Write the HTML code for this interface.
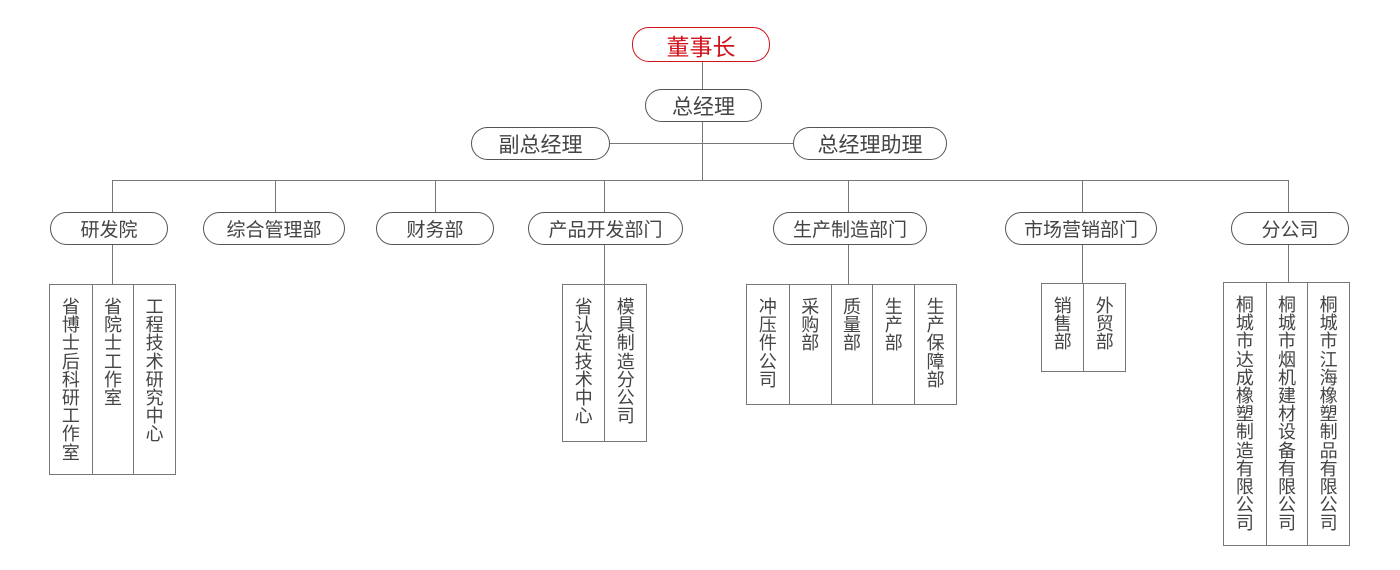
<!DOCTYPE html>
<html><head><meta charset="utf-8"><style>
body{margin:0;width:1400px;height:570px;background:#fff;position:relative;overflow:hidden;font-family:"Liberation Sans","Noto Sans CJK SC",sans-serif;color:#444}
.b{position:absolute;border:1px solid #555;border-radius:17px;box-sizing:border-box;display:flex;align-items:center;justify-content:center;background:#fff;white-space:nowrap}
.l{position:absolute;background:#777}
.t{position:absolute;border:1px solid #777;box-sizing:border-box;display:flex}
.t div{width:42px;border-left:1px solid #777;box-sizing:border-box;text-align:center;font-size:18px;line-height:18.2px;padding-top:13px;word-break:break-all;padding-left:11px;padding-right:11px}
.t div:first-child{border-left:none}
</style></head><body>
<div class="l" style="left:702px;top:61px;width:1px;height:119px"></div>
<div class="l" style="left:609px;top:143px;width:184px;height:1px"></div>
<div class="l" style="left:112px;top:180px;width:1177px;height:1px"></div>
<div class="l" style="left:112px;top:180px;width:1px;height:104px"></div>
<div class="l" style="left:275px;top:180px;width:1px;height:32px"></div>
<div class="l" style="left:435px;top:180px;width:1px;height:32px"></div>
<div class="l" style="left:604px;top:180px;width:1px;height:104px"></div>
<div class="l" style="left:848px;top:180px;width:1px;height:104px"></div>
<div class="l" style="left:1082px;top:180px;width:1px;height:103px"></div>
<div class="l" style="left:1288px;top:180px;width:1px;height:102px"></div>

<div class="b" style="left:632px;top:27px;width:138px;height:35px;border-color:#d0121b;color:#d0121b;font-size:23px">董事长</div>
<div class="b" style="left:645px;top:89px;width:117px;height:33px;font-size:21px">总经理</div>
<div class="b" style="left:471px;top:127px;width:139px;height:33px;font-size:21px">副总经理</div>
<div class="b" style="left:793px;top:127px;width:154px;height:33px;font-size:21px">总经理助理</div>

<div class="b" style="left:50px;top:212px;width:118px;height:33px;font-size:19px">研发院</div>
<div class="b" style="left:203px;top:212px;width:142px;height:33px;font-size:19px">综合管理部</div>
<div class="b" style="left:376px;top:212px;width:118px;height:33px;font-size:19px">财务部</div>
<div class="b" style="left:528px;top:212px;width:155px;height:33px;font-size:19px">产品开发部门</div>
<div class="b" style="left:773px;top:212px;width:154px;height:33px;font-size:19px">生产制造部门</div>
<div class="b" style="left:1005px;top:212px;width:152px;height:33px;font-size:19px">市场营销部门</div>
<div class="b" style="left:1231px;top:212px;width:118px;height:33px;font-size:19px">分公司</div>

<div class="t" style="left:49px;top:284px;width:127px;height:191px"><div>省博士后科研工作室</div><div>省院士工作室</div><div>工程技术研究中心</div></div>
<div class="t" style="left:562px;top:284px;width:85px;height:158px"><div>省认定技术中心</div><div>模具制造分公司</div></div>
<div class="t" style="left:746px;top:284px;width:211px;height:121px"><div>冲压件公司</div><div>采购部</div><div>质量部</div><div>生产部</div><div>生产保障部</div></div>
<div class="t" style="left:1041px;top:283px;width:85px;height:89px"><div>销售部</div><div>外贸部</div></div>
<div class="t" style="left:1223px;top:282px;width:127px;height:264px"><div>桐城市达成橡塑制造有限公司</div><div>桐城市烟机建材设备有限公司</div><div>桐城市江海橡塑制品有限公司</div></div>
</body></html>
